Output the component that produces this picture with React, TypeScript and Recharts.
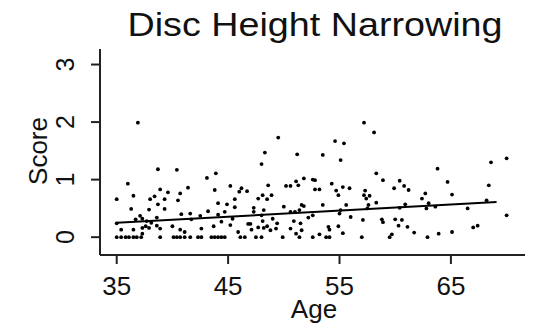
import React from 'react';
import { ScatterChart, Scatter, XAxis, YAxis } from 'recharts';

// ages and mean scores
const ages: number[] = [
  36.9, 38.7, 40.4, 36.0, 35.0, 36.5, 38.9, 39.6, 38.4, 38.0, 39.3, 38.7, 40.5, 40.7, 41.4,
  36.3, 37.9, 39.3, 40.8, 37.1, 36.7, 37.3, 37.7, 38.6, 38.1, 35.0, 35.4, 36.5, 37.3, 37.6,
  37.9, 38.6, 38.9, 40.0, 40.7, 41.1, 37.3,
  35.0, 35.4, 35.8, 36.1, 36.5, 36.8, 37.2, 38.9, 40.1, 40.4, 40.7, 41.1,
  48.3, 48.0, 43.9, 43.1, 43.8, 45.2, 46.2, 46.0, 46.7, 48.6, 48.9, 48.1, 48.5, 47.7, 44.1,
  45.6, 44.9, 45.6, 47.3, 48.2, 43.2, 44.7, 41.6, 42.5, 44.1, 47.3, 48.0, 45.4, 41.7, 44.4,
  46.8, 47.0, 48.1, 45.2, 43.7, 42.6, 45.9, 47.1, 47.7, 48.2, 48.5, 48.8,
  41.6, 42.3, 42.6, 43.5, 43.8, 44.1, 44.4, 44.7, 46.1, 46.5, 47.5, 48.0,
  49.5, 54.6, 55.4, 51.2, 53.5, 55.1, 51.8, 52.6, 52.8, 51.1, 50.2, 50.6, 51.3, 54.3, 55.3,
  55.9, 52.8, 53.2, 54.7, 54.9, 50.0, 51.6, 51.8, 53.5, 55.6, 50.6, 51.0, 51.4, 52.6, 55.1,
  55.0, 56.0, 49.0, 52.2, 50.9, 49.4, 51.5, 49.3, 50.6, 51.6, 54.0, 54.1, 54.9, 51.1, 55.3,
  53.2,
  49.9, 51.4, 52.6, 53.8, 54.1,
  57.2, 58.1, 58.3, 58.9, 63.8, 60.4, 60.8, 59.9, 61.2, 57.3, 57.2, 57.7, 57.4, 62.7, 62.4,
  58.3, 57.6, 57.5, 60.9, 60.4, 63.0, 62.8, 63.6, 57.1, 58.8, 58.9, 60.0, 60.6, 60.3, 61.1,
  61.7, 63.9, 59.7,
  57.0, 59.5, 62.9,
  68.6, 70.0, 64.7, 68.4, 65.1, 68.2, 66.5, 70.0, 67.4, 67.0, 65.1,
];

const scores: number[] = [
  1.99, 1.18, 1.17, 0.93, 0.66, 0.72, 0.83, 0.78, 0.71, 0.66, 0.66, 0.57, 0.64, 0.76, 0.86,
  0.49, 0.48, 0.49, 0.40, 0.37, 0.31, 0.32, 0.28, 0.34, 0.25, 0.24, 0.13, 0.13, 0.16, 0.19,
  0.16, 0.20, 0.15, 0.19, 0.13, 0.09, 0.06,
  0, 0, 0, 0, 0, 0, 0, 0, 0, 0, 0, 0,
  1.47, 1.27, 1.11, 1.03, 0.82, 0.89, 0.85, 0.79, 0.80, 0.90, 0.73, 0.73, 0.66, 0.67, 0.59,
  0.66, 0.57, 0.52, 0.51, 0.47, 0.45, 0.44, 0.41, 0.37, 0.39, 0.44, 0.38, 0.32, 0.31, 0.27,
  0.23, 0.23, 0.28, 0.21, 0.19, 0.15, 0.09, 0.13, 0.17, 0.16, 0.19, 0.12,
  0, 0, 0, 0, 0, 0, 0, 0, 0, 0, 0, 0,
  1.73, 1.67, 1.63, 1.44, 1.43, 1.34, 1.02, 1.00, 0.99, 0.97, 0.89, 0.89, 0.90, 0.93, 0.87,
  0.85, 0.83, 0.83, 0.81, 0.73, 0.53, 0.56, 0.54, 0.56, 0.56, 0.44, 0.44, 0.47, 0.38, 0.47,
  0.41, 0.35, 0.32, 0.34, 0.28, 0.24, 0.24, 0.15, 0.15, 0.12, 0.18, 0.13, 0.19, 0.06, 0.07,
  0.05,
  0, 0, 0, 0, 0,
  1.99, 1.82, 1.11, 0.99, 1.19, 0.98, 0.89, 0.85, 0.82, 0.81, 0.73, 0.72, 0.67, 0.76, 0.67,
  0.60, 0.56, 0.50, 0.57, 0.51, 0.59, 0.50, 0.53, 0.30, 0.31, 0.26, 0.31, 0.30, 0.20, 0.18,
  0.08, 0.06, 0.05,
  0, 0, 0,
  1.30, 1.37, 0.96, 0.90, 0.74, 0.64, 0.50, 0.38, 0.20, 0.17, 0.09,
];

// fitted line end points
const fitAges = [35, 69.1];
const fitScores = [0.25, 0.61];

const xTicks = [35, 45, 55, 65];
const yTicks = [0, 1, 2, 3];

const points = ages.map((a, i) => ({ age: a, score: scores[i] }));
const fit = fitAges.map((a, i) => ({ age: a, score: fitScores[i] }));

const font = '"Liberation Sans", Arial, sans-serif';
const ink = '#111';

const XTick = (props: any) => (
  <text x={props.x} y={295} textAnchor="middle" fontSize={26} fontFamily={font} fill={ink}>
    {props.payload.value}
  </text>
);

const YTick = (props: any) => (
  <text
    transform={`translate(74, ${props.y}) rotate(-90)`}
    textAnchor="middle"
    fontSize={25}
    fontFamily={font}
    fill={ink}
  >
    {props.payload.value}
  </text>
);

const Dot = (props: any) => <circle cx={props.cx} cy={props.cy} r={1.9} fill="#000" />;

export default function App() {
  return (
    <div style={{ position: 'absolute', left: 0, top: 0, width: 538, height: 327, background: '#fff' }}>
      <ScatterChart width={538} height={327} margin={{ top: 49, right: 13, left: 0, bottom: 0 }}>
        <XAxis
          type="number"
          dataKey="age"
          domain={[33.5, 71.65]}
          ticks={xTicks}
          allowDataOverflow
          height={72}
          tickSize={9}
          tick={<XTick />}
          axisLine={{ stroke: '#222', strokeWidth: 2 }}
          tickLine={{ stroke: '#222', strokeWidth: 2 }}
        />
        <YAxis
          type="number"
          dataKey="score"
          domain={[-0.31, 3.27]}
          ticks={yTicks}
          allowDataOverflow
          width={100}
          tickSize={9}
          tick={<YTick />}
          axisLine={{ stroke: '#222', strokeWidth: 2 }}
          tickLine={{ stroke: '#222', strokeWidth: 2 }}
        />
        <Scatter data={points} shape={<Dot />} isAnimationActive={false} />
        <Scatter
          data={fit}
          line={{ stroke: '#000', strokeWidth: 2 }}
          shape={() => <g />}
          isAnimationActive={false}
        />
      </ScatterChart>
      <svg width={538} height={327} style={{ position: 'absolute', left: 0, top: 0, pointerEvents: 'none' }}>
        <text x={315} y={36} textAnchor="middle" fontSize={34} fontFamily={font} fill={ink} textLength={375} lengthAdjust="spacingAndGlyphs">
          Disc Height Narrowing
        </text>
        <text x={314} y={318} textAnchor="middle" fontSize={26} fontFamily={font} fill={ink}>
          Age
        </text>
        <text transform="translate(47, 151) rotate(-90)" textAnchor="middle" fontSize={26} fontFamily={font} fill={ink}>
          Score
        </text>
      </svg>
    </div>
  );
}
